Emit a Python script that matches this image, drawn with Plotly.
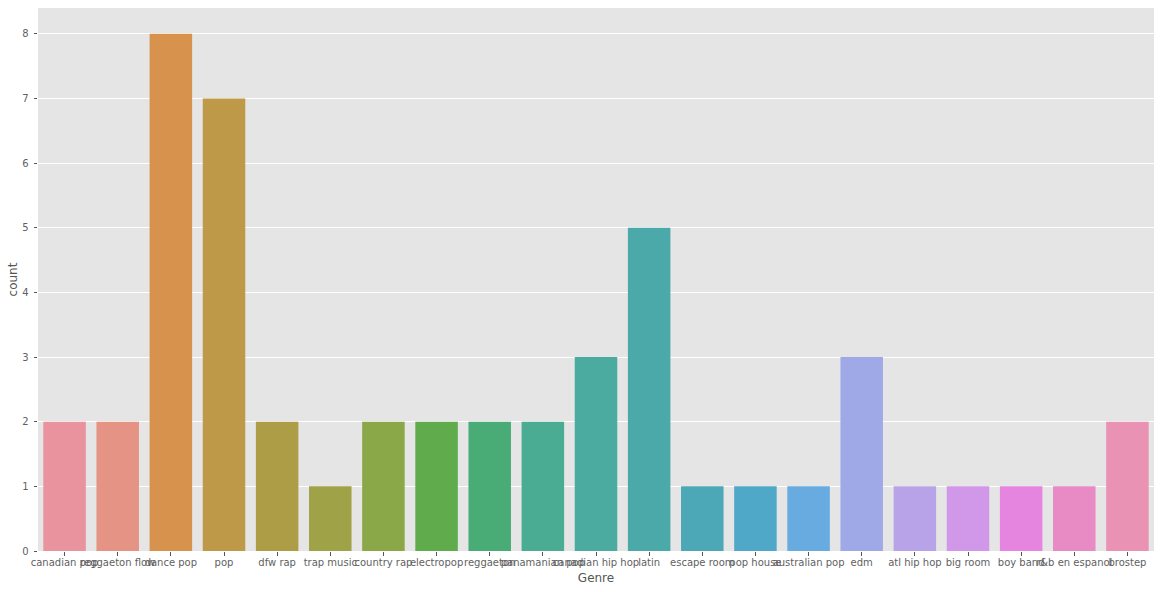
import plotly.graph_objects as go

genres = [
    "canadian pop", "reggaeton flow", "dance pop", "pop", "dfw rap", "trap music",
    "country rap", "electropop", "reggaeton", "panamanian pop", "canadian hip hop",
    "latin", "escape room", "pop house", "australian pop", "edm", "atl hip hop",
    "big room", "boy band", "r&b en espanol", "brostep",
]
counts = [2, 2, 8, 7, 2, 1, 2, 2, 2, 2, 3, 5, 1, 1, 1, 3, 1, 1, 1, 1, 2]
colors = [
    "#E9939F", "#E59384", "#D7924D", "#BE9A48", "#AD9D47", "#9FA246", "#8AA848",
    "#60AB4B", "#49AC77", "#4AAC92", "#4BABA0", "#4BA9A9", "#4CA8B7", "#50A8C8",
    "#67ABE1", "#A0A9E8", "#B9A3E8", "#D197E8", "#E685DF", "#E88AC3", "#E992B3",
]
y_ticks = [0, 1, 2, 3, 4, 5, 6, 7, 8]

fig = go.Figure(
    go.Bar(x=genres, y=counts, marker=dict(color=colors, line_width=0), width=0.8)
)

fig.update_xaxes(
    title=dict(text="Genre", font=dict(size=12, color="#555555"), standoff=7),
    range=[-0.5, 20.5],
    showgrid=False,
    ticks="outside",
    ticklen=3.5,
    tickwidth=1,
    tickcolor="#555555",
    tickangle=0,
    tickfont=dict(size=10, color="#5f5f5f"),
    ticklabelstandoff=-2,
    automargin=False,
)
fig.update_yaxes(
    title=dict(text="count", font=dict(size=12, color="#555555"), standoff=1),
    range=[0, 8.4],
    tickvals=y_ticks,
    showgrid=True,
    gridcolor="white",
    gridwidth=1,
    zeroline=False,
    ticks="outside",
    ticklen=3.5,
    tickwidth=1,
    tickcolor="#555555",
    tickfont=dict(size=10, color="#5f5f5f"),
    ticklabelstandoff=3,
    automargin=False,
)
fig.update_layout(
    width=1160,
    height=592,
    margin=dict(l=38, r=6, t=8, b=41, pad=0),
    paper_bgcolor="white",
    plot_bgcolor="#E5E5E5",
    font=dict(family="DejaVu Sans"),
    showlegend=False,
)

# the page's default body margin would shift the whole chart by 8px
fig.write_html(
    "out.html",
    config={"displayModeBar": False},
    post_script="document.body.style.margin = '0';",
)
